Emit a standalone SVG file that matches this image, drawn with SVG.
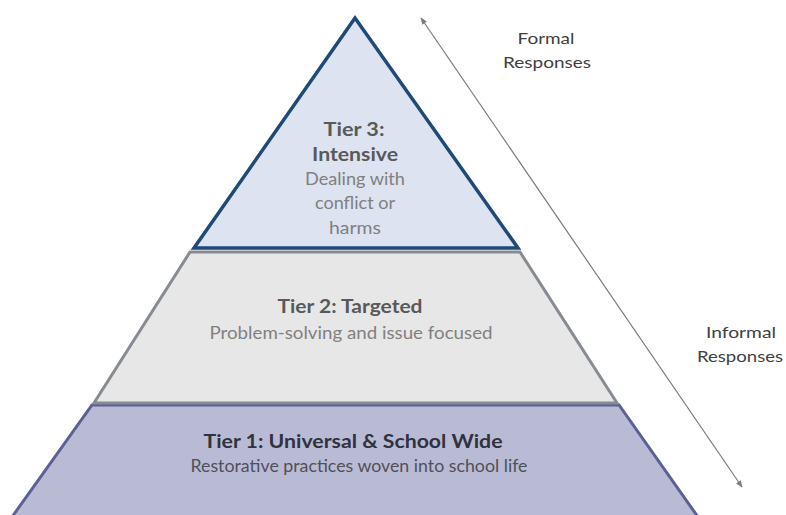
<svg xmlns="http://www.w3.org/2000/svg" width="786" height="515" viewBox="0 0 786 515">
<defs>
<marker id="ah" viewBox="0 0 10 10" refX="9" refY="5" markerWidth="7" markerHeight="7" orient="auto-start-reverse" markerUnits="userSpaceOnUse">
<path d="M0,1 L10,5 L0,9 z" fill="#7a7a7a"/>
</marker>
<style>
text{font-family:Lato,"Open Sans","Liberation Sans",sans-serif;text-anchor:middle}
.b{font-weight:bold;font-size:18px;fill:#595959}
.r{font-size:17px;fill:#808080}
.b1{font-weight:bold;font-size:18px;fill:#30323f}
.r1{font-size:17px;fill:#4f5059}
.side{font-size:16px;fill:#404040}
</style>
</defs>
<rect width="786" height="515" fill="#ffffff"/>
<g id="tier1">
<polygon points="92,405 619,405 698,517 12,517" fill="#b9bbd5" stroke="#5d5f97" stroke-width="3"/>
<text class="b1" x="353" y="448" textLength="299" lengthAdjust="spacingAndGlyphs">Tier 1: Universal &amp; School Wide</text>
<text class="r1" x="359" y="472" textLength="337" lengthAdjust="spacingAndGlyphs">Restorative practices woven into school life</text>
</g>
<g id="tier2">
<polygon points="190,252 520,252 617,403 94,403" fill="#e8e7e7" stroke="#868c92" stroke-width="3"/>
<text class="b" x="350" y="313" textLength="145" lengthAdjust="spacingAndGlyphs">Tier 2: Targeted</text>
<text class="r" x="351" y="339" textLength="283" lengthAdjust="spacingAndGlyphs">Problem-solving and issue focused</text>
</g>
<g id="tier3">
<polygon points="355,18 194,248 518,248" fill="#dde3f0" stroke="#1f4a78" stroke-width="3.5" stroke-linejoin="miter"/>
<text class="b" x="354" y="136" textLength="61" lengthAdjust="spacingAndGlyphs">Tier 3:</text>
<text class="b" x="355" y="161" textLength="86" lengthAdjust="spacingAndGlyphs">Intensive</text>
<text class="r" x="355" y="185" textLength="100" lengthAdjust="spacingAndGlyphs">Dealing with</text>
<text class="r" x="355" y="209" textLength="80" lengthAdjust="spacingAndGlyphs">conflict or</text>
<text class="r" x="355" y="234" textLength="52" lengthAdjust="spacingAndGlyphs">harms</text>
</g>
<g id="connectors">
<line x1="421" y1="18" x2="742" y2="487" stroke="#7a7a7a" stroke-width="1.2" marker-start="url(#ah)" marker-end="url(#ah)"/>
</g>
<g id="formal">
<text class="side" x="546" y="44" textLength="57" lengthAdjust="spacingAndGlyphs">Formal</text>
<text class="side" x="547" y="68" textLength="88" lengthAdjust="spacingAndGlyphs">Responses</text>
</g>
<g id="informal">
<text class="side" x="741" y="338" textLength="70" lengthAdjust="spacingAndGlyphs">Informal</text>
<text class="side" x="740" y="362" textLength="86" lengthAdjust="spacingAndGlyphs">Responses</text>
</g>
</svg>
